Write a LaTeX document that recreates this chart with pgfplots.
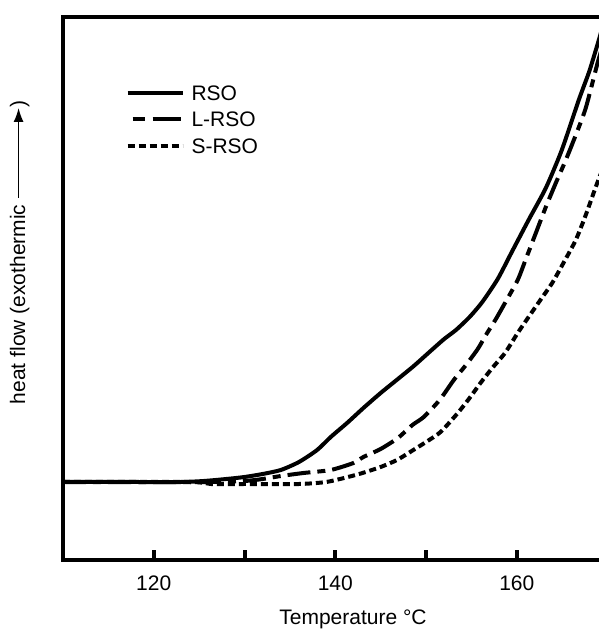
\documentclass[border=0pt]{standalone}
\usepackage{fontspec}
\setmainfont{Liberation Sans}
\usepackage{pgfplots}
\pgfplotsset{compat=1.18}
\usetikzlibrary{arrows.meta}

\begin{document}
\begin{tikzpicture}
% page frame: the right spine of the box falls just outside the page
\path[use as bounding box] (-31.5pt,-35pt) rectangle (267.5pt,280pt);
\begin{axis}[
    scale only axis,
    width=270pt, height=271.5pt,
    xmin=110, xmax=169.5,
    ymin=0, ymax=543,
    axis line style={line width=2pt},
    xtick={120,130,140,150,160},
    xticklabels={120,,140,,160},
    ytick=\empty,
    xtick pos=bottom,
    tick align=inside,
    major tick length=5pt,
    tick style={line width=2pt, black},
    xticklabel style={font=\fontsize{10.5}{12}\selectfont, anchor=center, yshift=-11.75pt},
    xlabel={Temperature °C},
    xlabel style={font=\fontsize{10.5}{12}\selectfont, at={(axis description cs:0.537,-0.11)}, anchor=center},
    ylabel={heat flow (exothermic \tikz[baseline=-0.6ex]\draw[line width=0.8pt,-{Latex[length=7pt,width=5pt]}] (0,0)--(45pt,0);)},
    ylabel style={font=\fontsize{10.5}{12}\selectfont, at={(axis description cs:-0.08,0.567)}, anchor=center},
    legend image code/.code={\draw[#1] (0pt,0pt) -- (27.5pt,0pt); \path (30pt,0pt);},
    legend cell align=left,
    legend style={
        draw=none, fill=none,
        at={(axis description cs:0.104,0.886)}, anchor=north west,
        font=\fontsize{10.5}{12}\selectfont,
        nodes={inner sep=1pt, text height=7.5pt, text depth=0pt},
        row sep=3.75pt,
    },
    every axis plot/.append style={line width=2pt, black, smooth, tension=0.4},
]
\addplot[solid] coordinates {
    (110,78) (118,78) (123,78) (125.5,79) (128,81) (130,83) (132,86) (134,90)
    (136,98) (138,110) (139.5,123) (141.3,137) (143.1,152) (145,167)
    (146.9,181) (148.65,194) (150.5,209) (152,221) (153.3,230) (154.8,243)
    (156.2,258) (157.9,281) (159.45,308) (161.3,340) (163.2,372) (164.96,410)
    (166.83,460) (168,489) (169.04,520) (169.5,535)
};
\addlegendentry{RSO}

\addplot[dash pattern=on 11.5pt off 3.5pt on 4pt off 3.5pt,
    legend image post style={dash pattern=on 0pt off 2.5pt on 6pt off 4pt on 14pt off 20pt}]
    coordinates {
    (110,78) (126,78) (130,79) (132,81) (134,84) (136.5,87) (139.5,90)
    (142,97) (143.1,103) (145,111) (146.9,122) (148.5,135) (149.75,143)
    (151.5,160) (153.06,180) (154.4,195) (155.7,211) (156.6,225) (157.7,241)
    (158.7,257) (160.1,280) (161,301) (162.1,327) (163.2,353) (164.3,377)
    (165.4,400) (166.5,425) (167.6,452) (168.9,497) (169.5,515)
};
\addlegendentry{L-RSO}

\addplot[dash pattern=on 3.5pt off 2pt] coordinates {
    (110,78) (124,78) (126.3,76) (130,76) (136,76) (139,78) (141.4,83)
    (143,87) (145,93) (146.8,100) (148.6,110) (150,118) (151.6,128)
    (153.5,147) (154.8,162) (156,177) (157.3,192) (158.7,207) (160.1,227)
    (161.3,243) (162.6,260) (163.9,277) (165.2,298) (166.5,320) (167.6,345)
    (168.7,373) (169.5,392)
};
\addlegendentry{S-RSO}
\end{axis}
\end{tikzpicture}
\end{document}
